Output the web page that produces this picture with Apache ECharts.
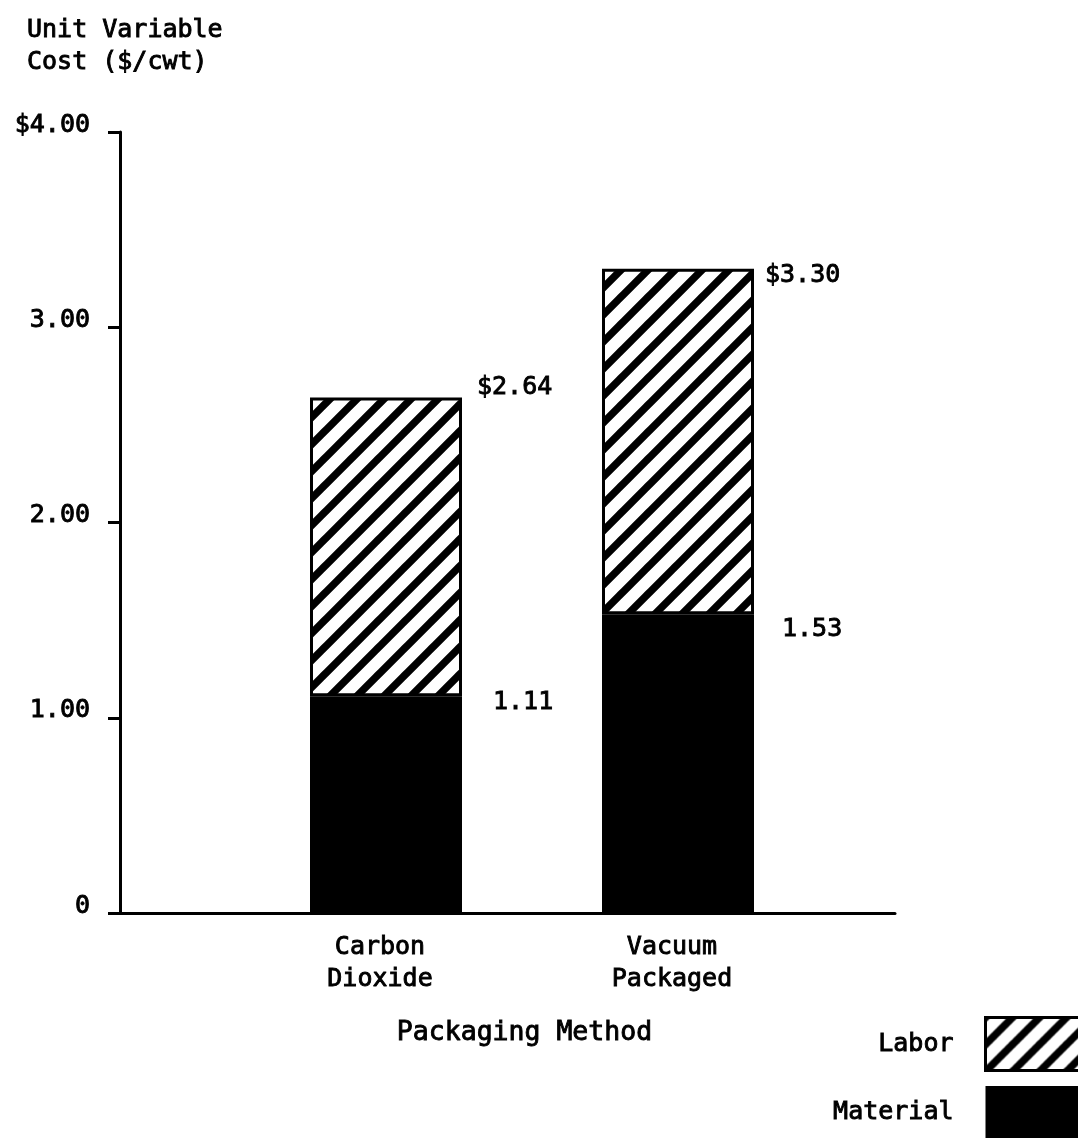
<!DOCTYPE html>
<html>
<head>
<meta charset="utf-8">
<script src="https://cdn.jsdelivr.net/npm/echarts@6/dist/echarts.min.js"></script>
<style>
  html, body { margin: 0; padding: 0; background: #fff; }
  #chart { width: 1078px; height: 1138px; }
</style>
</head>
<body>
<div id="chart"></div>
<script>
// Unit variable cost by packaging method ($/cwt)
const categories = ['Carbon\nDioxide', 'Vacuum\nPackaged'];
const material = [1.11, 1.53];
const total = [2.64, 3.30];
const yTickLabels = ['0', '1.00', '2.00', '3.00', '$4.00'];

// labor is the part of each bar above material
const labor = total.map((t, i) => +(t - material[i]).toFixed(2));

// label nudges from each bar's top-left corner (px)
const totalLabelOffsets = [[167, -10], [163, 7]];
const materialLabelOffsets = [[183, 6], [180, 15]];

const FONT = 'DejaVu Sans Mono';
const FS = 25;

// diagonal "/" hatch used for the labor segment
function hatchTile() {
  const P = 27;
  const c = document.createElement('canvas');
  c.width = P; c.height = P;
  const g = c.getContext('2d');
  g.fillStyle = '#fff';
  g.fillRect(0, 0, P, P);
  g.strokeStyle = '#000';
  g.lineWidth = 7.5;
  g.lineCap = 'square';
  for (const k of [-1, 0, 1]) {
    g.beginPath();
    g.moveTo(k * P, P);
    g.lineTo(k * P + P, 0);
    g.stroke();
  }
  return c;
}
const hatch = { image: hatchTile(), repeat: 'repeat' };

const chart = echarts.init(document.getElementById('chart'), null, { renderer: 'canvas' });

const textBase = {
  fontFamily: FONT, fontSize: FS, color: '#000',
  textBorderColor: '#000', textBorderWidth: 0.9
};

const plotTop = 132, plotBottom = 225;

chart.setOption({
  backgroundColor: '#fff',
  animation: false,
  textStyle: { fontFamily: FONT },
  title: {
    text: 'Unit Variable\nCost ($/cwt)',
    left: 22,
    top: 9,
    textStyle: Object.assign({}, textBase, { fontWeight: 'normal', lineHeight: 32 })
  },
  // grid 0: the frame (axes, ticks, scale); grid 1: the bars
  grid: [
    { left: 120, right: 183, top: plotTop, bottom: plotBottom },
    { left: 240, right: 254, top: plotTop, bottom: plotBottom }
  ],
  legend: {
    orient: 'vertical',
    align: 'right',
    right: -9,
    top: 1016,
    height: 140,
    padding: 0,
    itemWidth: 100,
    itemHeight: 53,
    itemGap: 14,
    icon: 'rect',
    selectedMode: false,
    textStyle: Object.assign({}, textBase, { padding: [0, 27, 0, 0] }),
    data: [
      { name: 'Labor', itemStyle: { borderColor: '#000', borderWidth: 3 } },
      { name: 'Material' }
    ]
  },
  xAxis: [
    {
      gridIndex: 0,
      type: 'value',
      min: 0,
      max: 1,
      name: 'Packaging Method',
      nameLocation: 'middle',
      nameGap: 107,
      nameTextStyle: Object.assign({}, textBase, { fontSize: 26.5, padding: [0, 0, 0, 34] }),
      axisLine: { show: true, lineStyle: { color: '#000', width: 3 } },
      axisTick: { show: false },
      axisLabel: { show: false },
      splitLine: { show: false }
    },
    {
      gridIndex: 1,
      type: 'category',
      data: categories,
      axisLine: { show: false },
      axisTick: { show: false },
      splitLine: { show: false },
      axisLabel: Object.assign({}, textBase, {
        margin: 18,
        lineHeight: 32,
        padding: [0, 12, 0, 0]
      })
    }
  ],
  yAxis: [
    {
      gridIndex: 0,
      type: 'value',
      min: 0,
      max: 4,
      interval: 1,
      axisLine: { show: true, lineStyle: { color: '#000', width: 3 } },
      axisTick: { show: true, inside: false, length: 12, lineStyle: { color: '#000', width: 3 } },
      splitLine: { show: false },
      axisLabel: Object.assign({}, textBase, {
        margin: 30,
        verticalAlign: 'bottom',
        lineHeight: 14,
        formatter: v => yTickLabels[Math.round(v)]
      })
    },
    {
      gridIndex: 1,
      type: 'value',
      min: 0,
      max: 4,
      interval: 1,
      show: false
    }
  ],
  series: [
    {
      name: 'Material',
      type: 'bar',
      stack: 'cost',
      xAxisIndex: 1,
      yAxisIndex: 1,
      barWidth: 152,
      itemStyle: { color: '#000' },
      label: Object.assign({}, textBase),
      data: material.map((v, i) => ({
        value: v,
        label: {
          show: true,
          position: materialLabelOffsets[i],
          align: 'left',
          verticalAlign: 'middle',
          formatter: () => material[i].toFixed(2)
        }
      }))
    },
    {
      name: 'Labor',
      type: 'bar',
      stack: 'cost',
      xAxisIndex: 1,
      yAxisIndex: 1,
      barWidth: 152,
      itemStyle: { color: hatch, borderColor: '#000', borderWidth: 3 },
      label: Object.assign({}, textBase),
      data: labor.map((v, i) => ({
        value: v,
        label: {
          show: true,
          position: totalLabelOffsets[i],
          align: 'left',
          verticalAlign: 'middle',
          formatter: () => '$' + total[i].toFixed(2)
        }
      }))
    }
  ]
});
</script>
</body>
</html>
